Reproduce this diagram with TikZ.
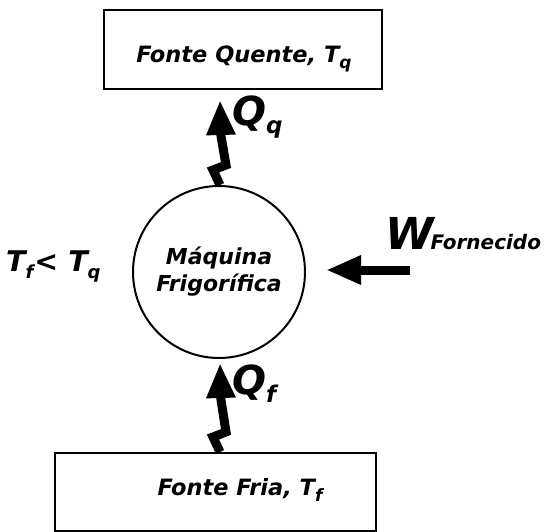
\documentclass[tikz,border=0pt]{standalone}
\usepackage{fontspec}
\setmainfont{DejaVu Sans}
\usetikzlibrary{arrows.meta}
% lowered subscript in text fonts: #1 raise, #2 size, #3 text
\newcommand\lowsub[3]{\raisebox{#1}{\fontsize{#2}{#2}\selectfont #3}}
\begin{document}
\begin{tikzpicture}[x=1pt,y=1pt,
  reservoir/.style={draw, line width=2pt, rectangle, inner sep=0pt},
  machine/.style={draw, line width=2pt, circle, inner sep=0pt, minimum size=172pt,
    align=center, font=\bfseries\itshape\fontsize{22}{27}\selectfont},
  lbl/.style={inner sep=0pt, font=\bfseries\itshape},
  heat/.style={line width=9pt, line join=miter, -{Triangle[length=35pt,width=27pt]}},
  work/.style={line width=9pt, -{Triangle[length=35pt,width=27pt]}}]
\useasboundingbox (0,0) rectangle (544,-532);

% reservoirs
\node[reservoir, minimum width=278pt, minimum height=79pt] (hot) at (243,-49.5) {};
\node[lbl, anchor=base] (hotlbl) at (244,-63)
  {\fontsize{22.5}{26}\selectfont Fonte Quente, T\lowsub{-6pt}{17}{q}};
\node[reservoir, minimum width=321pt, minimum height=78pt] (cold) at (215.5,-492) {};
\node[lbl, anchor=base] (coldlbl) at (240,-495)
  {\fontsize{22.5}{26}\selectfont Fonte Fria, T\lowsub{-6pt}{17}{f}};

% refrigerator
\node[machine] (m) at (219,-272) {Máquina\\Frigorífica};

% heat flows (zigzag arrows)
\coordinate (qq0) at ([xshift=1pt]m.north);
\draw[heat] (qq0) -- ++(-7,15) -- ++(13,5) -- ++(-5,29) -- ++(-1,36);
\coordinate (qf0) at ([xshift=1pt]m.south |- cold.north);
\draw[heat] (qf0) -- ++(-7,15) -- ++(13,5) -- ++(-5,32) -- ++(-1,37);

% work input
\coordinate (w0) at (410,-270);
\draw[work] (w0) -- ([xshift=20pt]m.east |- w0);

% labels
\node[lbl, anchor=base west] (Qq) at (232,-126)
  {\fontsize{40}{40}\selectfont Q\lowsub{-8pt}{23}{q}};
\node[lbl, anchor=base west] (Qf) at (232,-394)
  {\fontsize{40}{40}\selectfont Q\lowsub{-8pt}{23}{f}};
\node[lbl, anchor=base west] (Tcmp) at (6,-272)
  {\fontsize{28.5}{30}\selectfont T\lowsub{-6pt}{18}{f}\kern1pt< T\lowsub{-6pt}{18}{q}};
\node[lbl, anchor=base west] (W) at (385,-249)
  {\fontsize{44}{44}\selectfont W\kern-3pt\lowsub{0pt}{20}{Fornecido}};
\end{tikzpicture}
\end{document}
